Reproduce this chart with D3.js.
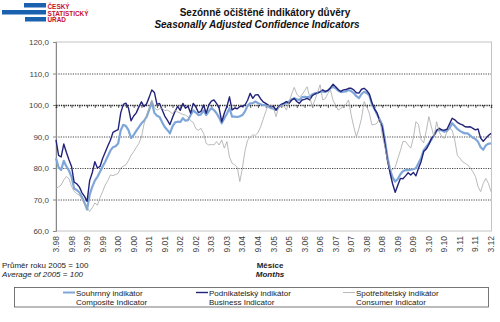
<!DOCTYPE html>
<html><head><meta charset="utf-8">
<script src="https://cdn.jsdelivr.net/npm/d3@7"></script>
<style>
body{margin:0;background:#fff;}
svg{display:block;font-family:"Liberation Sans",Arial,sans-serif;}
</style></head>
<body>
<script>
const tickLabels = ["3.98","9.98","3.99","9.99","3.00","9.00","3.01","9.01","3.02","9.02","3.03","9.03","3.04","9.04","3.05","9.05","3.06","9.06","3.07","9.07","3.08","9.08","3.09","9.09","3.10","9.10","3.11","9.11","3.12"];
const yTicks = [60,70,80,90,100,110,120];

const composite = [83.1,80.2,79.4,82.3,80.5,79.2,77.2,73.5,73.0,72.3,70.8,69.0,66.8,71.5,74.0,76.0,77.2,78.8,80.5,82.0,
83.7,85.5,86.6,86.9,87.8,92.0,93.7,93.3,92.0,89.5,90.5,91.8,93.0,94.2,95.0,96.2,98.5,101.0,97.5,96.6,
96.2,94.5,93.0,92.1,91.0,93.2,94.5,94.7,94.6,95.8,95.0,95.2,96.8,98.3,97.6,96.8,97.0,98.3,96.8,98.0,
99.0,98.4,97.4,96.0,94.2,95.8,97.2,99.0,96.3,96.3,96.2,96.4,96.8,98.0,99.8,100.5,100.6,101.1,100.6,100.2,
100.0,100.0,99.5,99.0,98.8,98.4,99.4,99.9,100.3,100.6,101.1,101.8,102.1,101.8,101.6,102.5,102.6,102.5,102.6,103.4,
103.7,103.9,104.2,104.2,104.1,104.6,105.3,105.8,105.3,104.5,104.1,104.2,104.3,104.8,104.4,103.8,102.8,102.2,103.5,104.2,
103.8,103.0,100.3,98.7,97.0,95.5,93.7,89.0,83.5,79.5,77.0,75.7,76.5,78.0,79.0,79.4,79.3,79.5,79.6,79.9,
81.5,83.2,85.6,86.8,87.8,89.0,90.4,91.8,92.1,92.0,91.5,91.8,92.6,94.2,93.3,92.4,91.8,91.3,91.0,91.0,
90.3,89.6,89.2,88.3,86.6,85.8,87.2,87.7,87.8];

const business = [88.9,84.0,83.5,87.6,85.0,82.6,80.5,75.5,75.0,74.0,72.2,71.0,69.4,76.0,78.5,82.0,80.0,80.5,83.0,85.0,
87.0,88.8,91.3,91.8,92.2,97.5,100.2,100.6,99.0,95.0,96.5,97.5,99.4,101.0,99.5,100.4,102.5,104.8,104.0,100.2,
100.5,98.5,96.5,95.2,93.8,96.0,98.0,99.6,98.3,100.5,99.0,99.6,97.4,100.5,99.4,97.6,98.0,100.0,97.4,100.0,
101.2,101.6,100.5,99.0,94.7,97.4,99.5,102.6,98.4,99.0,98.8,99.5,99.6,100.0,101.5,103.7,102.1,103.2,103.3,102.0,
101.0,100.5,100.0,99.5,99.5,98.4,99.5,100.2,100.6,101.1,100.5,101.5,102.1,101.1,100.5,101.6,101.8,102.1,101.6,103.0,
103.5,103.8,104.2,104.8,104.3,104.6,105.5,106.6,105.8,104.9,104.3,104.8,104.9,105.3,105.3,104.8,103.9,103.8,105.0,105.3,
104.6,103.5,100.8,98.8,97.5,95.0,93.0,87.8,82.5,78.5,75.0,72.3,74.5,76.7,76.6,77.5,78.5,77.8,78.6,77.5,
79.9,82.0,85.2,86.0,87.5,89.4,90.3,92.0,92.6,92.1,92.0,92.3,94.0,95.8,95.3,94.5,94.0,93.7,93.1,93.0,
93.1,92.6,92.1,92.4,89.5,88.5,89.4,90.3,91.0];

const consumer = [73.5,74.0,74.6,76.2,77.3,76.6,74.2,72.6,71.8,71.4,70.2,68.6,67.5,66.2,67.4,68.9,68.2,70.6,72.5,74.6,
76.0,77.8,77.6,77.9,78.3,80.0,80.6,81.0,82.4,84.0,85.2,86.5,87.8,89.8,94.0,96.8,99.0,101.6,99.2,98.4,
98.8,99.0,98.2,98.4,97.9,97.2,98.4,97.8,97.4,97.0,96.8,96.2,95.0,94.5,92.5,92.0,92.6,91.0,87.8,87.3,
87.5,87.3,88.4,87.3,88.9,86.3,88.4,83.5,81.5,81.0,80.2,75.7,80.0,85.5,88.8,89.8,90.5,90.4,91.2,93.0,
95.5,97.9,100.0,99.6,99.0,96.3,99.4,100.0,99.7,98.4,101.0,103.5,105.6,103.5,102.6,103.2,104.5,105.8,102.4,99.5,
101.6,104.0,106.4,101.6,102.0,103.7,104.8,101.5,100.0,98.4,99.0,99.5,100.2,101.6,96.8,93.1,89.9,92.5,95.8,101.1,
99.5,97.4,93.7,93.8,94.2,95.8,90.5,86.8,82.5,79.4,79.5,80.2,83.0,85.5,88.4,88.4,87.3,86.3,89.5,94.7,
93.8,89.0,88.0,91.8,96.3,93.0,89.9,94.7,91.5,90.0,89.4,91.5,92.6,92.0,88.9,84.0,83.1,82.0,81.5,81.0,
80.0,78.8,77.3,74.1,72.5,75.1,76.7,75.1,72.5];

const W = 500, H = 322;
const svg = d3.select("body").append("svg").attr("width", W).attr("height", H);

const m = {left:56, right:491, top:42, bottom:231};
const x = d3.scaleLinear().domain([0, composite.length - 1]).range([m.left, m.right]);
const y = d3.scaleLinear().domain([60, 120]).range([m.bottom, m.top]);

// logo
const blue = "#1a62b0", red = "#c8102e";
svg.append("rect").attr("x",24).attr("y",3).attr("width",22).attr("height",4.5).attr("fill",blue);
svg.append("rect").attr("x",2).attr("y",10).attr("width",44).attr("height",4.5).attr("fill",blue);
svg.append("rect").attr("x",25).attr("y",17).attr("width",21).attr("height",4.5).attr("fill",blue);
const logoT = ["ČESKÝ","STATISTICKÝ","ÚŘAD"];
logoT.forEach((t,i)=>{
  svg.append("text").attr("x",47.5).attr("y",8.6+i*6.9).attr("fill",red)
    .attr("font-size",6.4).attr("font-weight","bold").text(t);
});

// titles
svg.append("text").attr("x",265).attr("y",16).attr("text-anchor","middle")
  .attr("font-size",10).attr("font-weight","bold").attr("fill","#111").text("Sezónně očištěné indikátory důvěry");
svg.append("text").attr("x",257).attr("y",28).attr("text-anchor","middle")
  .attr("font-size",10).attr("font-weight","bold").attr("font-style","italic").attr("fill","#111").text("Seasonally Adjusted Confidence Indicators");

// plot border
svg.append("rect").attr("x",m.left).attr("y",m.top).attr("width",m.right-m.left+0.5).attr("height",m.bottom-m.top)
  .attr("fill","none").attr("stroke","#c4c4c4").attr("stroke-width",1);

// gridlines
const grid = svg.append("g").attr("transform",`translate(${m.left},0)`)
  .call(d3.axisLeft(y).tickValues(yTicks.filter(v=>v>60 && v<120 && v!==100)).tickSize(-(m.right-m.left)).tickFormat(""));
grid.select(".domain").remove();
grid.selectAll("line").attr("stroke","#333").attr("stroke-dasharray","1.2,1.2").attr("stroke-width",0.9);

// y axis
const yAx = svg.append("g").attr("transform",`translate(${m.left},0)`)
  .call(d3.axisLeft(y).tickValues(yTicks).tickSize(3).tickPadding(4).tickFormat(d=>d3.format(".1f")(d).replace(".",",")));
yAx.select(".domain").attr("stroke","#888");
yAx.selectAll("line").attr("stroke","#888");
yAx.selectAll("text").attr("font-size",8).attr("fill","#444").attr("font-family","Liberation Sans, Arial, sans-serif");

// category axis at 100
const tickIdx = d3.range(0, composite.length, 3);
const xAx = svg.append("g").attr("transform",`translate(0,${y(100)})`)
  .call(d3.axisBottom(x).tickValues(tickIdx).tickSize(3).tickFormat(""));
xAx.select(".domain").attr("stroke","#222").attr("stroke-dasharray","1.3,1").attr("stroke-width",1.6);
xAx.selectAll("line").attr("stroke","#333").attr("stroke-width",0.8);

// x labels at bottom
const labIdx = tickLabels.map((_,i)=>i*6);
svg.append("g").selectAll("text").data(labIdx).join("text")
  .attr("transform",d=>`translate(${x(d)+3},${m.bottom+5}) rotate(-90)`)
  .attr("text-anchor","end").attr("font-size",8.5).attr("fill","#444")
  .text((d,i)=>tickLabels[i]);

// series
const line = d3.line().x((d,i)=>x(i)).y(d=>y(d));
svg.append("path").datum(composite).attr("d",line).attr("fill","none").attr("stroke","#7fa6d9").attr("stroke-width",2.2).attr("stroke-linejoin","round");
svg.append("path").datum(business).attr("d",line).attr("fill","none").attr("stroke","#22237a").attr("stroke-width",1.4).attr("stroke-linejoin","round");
svg.append("path").datum(consumer).attr("d",line).attr("fill","none").attr("stroke","#a8a8a8").attr("stroke-width",0.8).attr("stroke-linejoin","round");

// notes
svg.append("text").attr("x",2).attr("y",268).attr("font-size",8).attr("fill","#222").text("Průměr roku 2005 = 100");
svg.append("text").attr("x",2).attr("y",276.5).attr("font-size",8).attr("font-style","italic").attr("fill","#222").text("Average of 2005 = 100");
svg.append("text").attr("x",270).attr("y",268).attr("text-anchor","middle").attr("font-size",8).attr("font-weight","bold").attr("fill","#222").text("Měsíce");
svg.append("text").attr("x",270).attr("y",277).attr("text-anchor","middle").attr("font-size",8).attr("font-weight","bold").attr("font-style","italic").attr("fill","#222").text("Months");

// legend
svg.append("rect").attr("x",14.5).attr("y",287.5).attr("width",474).attr("height",19.5).attr("fill","#fff").attr("stroke","#555").attr("stroke-width",0.8);
const legend = [
  {cz:"Souhrnný indikátor", en:"Composite Indicator", c:"#7fa6d9", w:2, x:63},
  {cz:"Podnikatelský indikátor", en:"Business Indicator", c:"#22237a", w:1.4, x:196},
  {cz:"Spotřebitelský indikátor", en:"Consumer Indicator", c:"#a8a8a8", w:0.8, x:343}
];
legend.forEach(l=>{
  svg.append("line").attr("x1",l.x).attr("x2",l.x+12).attr("y1",292.5).attr("y2",292.5).attr("stroke",l.c).attr("stroke-width",l.w);
  svg.append("text").attr("x",l.x+13).attr("y",295.5).attr("font-size",8).attr("fill","#222").text(l.cz);
  svg.append("text").attr("x",l.x+13).attr("y",304.5).attr("font-size",8).attr("fill","#222").text(l.en);
});
</script>
</body></html>
